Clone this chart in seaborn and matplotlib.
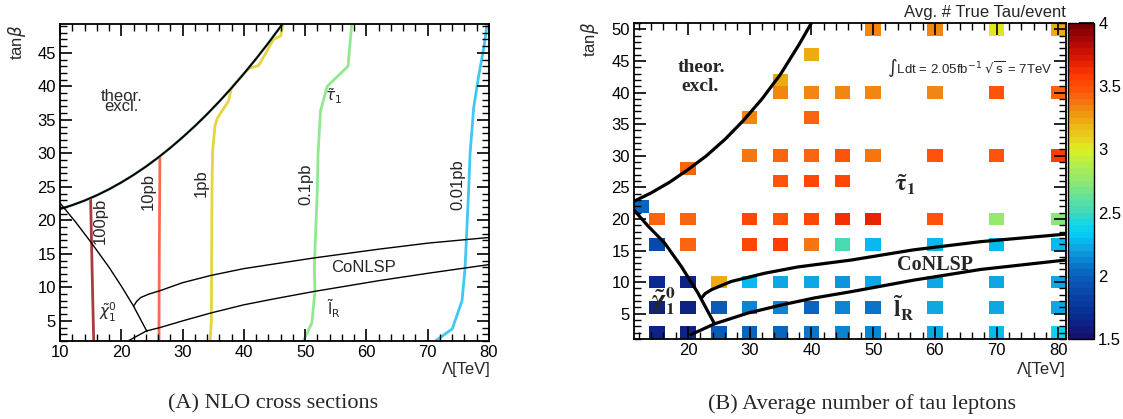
import numpy as np
import pandas as pd
import matplotlib
matplotlib.use("Agg")
import matplotlib.pyplot as plt
import seaborn as sns
from matplotlib.colors import LinearSegmentedColormap
from matplotlib.ticker import MultipleLocator, FormatStrFormatter

sns.set_style("ticks")
plt.rcParams["font.family"] = ["Liberation Sans", "DejaVu Sans"]
plt.rcParams.update({
    "xtick.direction": "in", "ytick.direction": "in",
    "xtick.top": True, "ytick.right": True,
    "xtick.bottom": True, "ytick.left": True,
    "xtick.major.size": 8.5, "ytick.major.size": 8.5,
    "xtick.minor.size": 4.8, "ytick.minor.size": 4.8,
    "xtick.major.width": 1.2, "ytick.major.width": 1.2,
    "xtick.minor.width": 1.0, "ytick.minor.width": 1.0,
    "xtick.color": "black", "ytick.color": "black",
    "xtick.minor.visible": True, "ytick.minor.visible": True,
})

# ---------------- Panel A: NLO cross-section contours ----------------
excl_lam = [10, 12, 14, 16, 18, 20, 22, 24, 26, 28, 30, 32, 34, 36, 38, 40, 42, 44, 46.3]
excl_tanb = [21.70, 22.27, 22.95, 23.74, 24.64, 25.66, 26.78, 28.01, 29.36, 30.82,
             32.39, 34.06, 35.85, 37.75, 39.76, 41.89, 44.12, 46.46, 49.3]

xs100_lam = [15.5, 15.3, 15.0]
xs100_tanb = [2, 10, 23.1]
xs10_lam = [26.15, 26.2, 26.3]
xs10_tanb = [2, 15, 29.5]
xs1_lam = [34.5, 34.7, 34.8, 34.9, 35.3, 35.7, 37.5, 38.0, 40.0, 40.9, 42.4, 43.6, 44.8, 46.0, 46.4]
xs1_tanb = [2, 5, 25, 30.3, 34.2, 35.3, 37.8, 39.8, 41.9, 42.7, 43.1, 45.0, 47.0, 47.5, 49.3]
xs01_lam = [49.7, 51.1, 51.6, 51.5, 52.0, 52.1, 52.5, 53.6, 57.0, 57.6]
xs01_tanb = [2, 4.7, 9.5, 13, 25, 29.8, 36.3, 40, 43, 49.3]
xs001_lam = [71.25, 74.0, 75.6, 76.1, 76.7, 76.9, 77.5, 78.3, 79.1, 79.7]
xs001_tanb = [2, 3.8, 8, 13, 25, 29.8, 36.8, 41.5, 45.5, 49.3]

chiA_lam = [10, 12.5, 15, 18, 20, 22, 24.2]
chiA_tanb = [22.6, 19.8, 16.8, 13.0, 10.2, 7.2, 3.4]
coA_lam = [22, 22.5, 23.2, 24.5, 26.3, 30, 34.7, 40, 45, 51.5, 62, 70, 80]
coA_tanb = [7.2, 7.9, 8.5, 9.0, 9.5, 10.7, 11.8, 12.8, 13.5, 14.4, 15.7, 16.6, 17.45]
lrA_lam = [21.1, 24.1, 26.3, 30, 34.7, 40, 45, 51.5, 62, 70, 80]
lrA_tanb = [2, 3.5, 4.0, 5.0, 6.2, 7.4, 8.3, 9.4, 11.0, 12.1, 13.4]

# ---------------- Panel B: average number of true taus per event ----------------
excl_b_lam = [11.25, 14, 17, 20, 23, 26, 29, 32, 35, 38, 40.0]
excl_b_tanb = [22.8, 24.1, 25.8, 27.8, 30.0, 32.6, 35.6, 39.0, 42.9, 47.6, 51.0]
chiB_lam = [11.25, 13.5, 16.2, 18.9, 21.6, 24.3]
chiB_tanb = [21.4, 18.9, 16.2, 12.5, 8.3, 3.4]
coB_lam = [22.2, 22.8, 23.8, 25.5, 27.0, 32.4, 37.8, 46.5, 56.5, 67.4, 81.25]
coB_tanb = [7.5, 8.2, 8.8, 9.5, 10.1, 11.4, 12.4, 13.5, 15.1, 16.4, 17.6]
lrB_lam = [20.5, 24.3, 29.7, 35.2, 40.5, 46.5, 56.5, 67.4, 81.25]
lrB_tanb = [1.7, 3.4, 5.1, 6.4, 7.5, 8.5, 10.3, 12.0, 13.5]

grid_lam = (
    [15, 20, 25, 30, 35, 40, 45, 50, 60, 70, 80]
    + [15, 20, 25, 30, 35, 40, 45, 50, 60, 70, 80]
    + [15, 20, 25, 30, 35, 40, 45, 50, 60, 70, 80]
    + [15, 20, 30, 35, 40, 45, 50, 60, 70, 80]
    + [15, 20, 30, 35, 40, 45, 50, 60, 70, 80]
    + [12.5]
    + [35, 40, 45]
    + [20]
    + [30, 35, 40, 45, 50, 60, 70, 80]
    + [30, 40]
    + [35, 40, 45, 50, 60, 70, 80]
    + [35]
    + [40]
    + [50, 60, 70, 80]
)
grid_tanb = (
    [2] * 11 + [6] * 11 + [10] * 11 + [16] * 10 + [20] * 10 + [22]
    + [26] * 3 + [28] + [30] * 8 + [36] * 2 + [40] * 7 + [42] + [46] + [50] * 4
)
grid_ntau = (
    [1.65, 1.65, 1.95, 2.00, 2.05, 2.07, 2.10, 2.10, 2.20, 2.30, 2.38]
    + [1.65, 1.63, 1.95, 2.10, 2.10, 2.05, 2.15, 2.08, 2.20, 2.20, 2.20]
    + [1.70, 1.63, 3.20, 2.25, 2.20, 2.20, 2.18, 2.20, 2.22, 2.20, 2.20]
    + [1.85, 3.42, 3.50, 3.57, 3.35, 2.55, 2.30, 2.30, 2.28, 2.28]
    + [3.42, 3.43, 3.52, 3.45, 3.53, 3.60, 3.65, 3.45, 2.75, 2.70]
    + [2.00]
    + [3.45, 3.50, 3.50]
    + [3.40]
    + [3.38, 3.40, 3.40, 3.48, 3.37, 3.48, 3.45, 3.57]
    + [3.33, 3.42]
    + [3.30, 3.33, 3.32, 3.33, 3.33, 3.45, 3.40]
    + [3.22]
    + [3.22]
    + [3.33, 3.33, 3.05, 3.22]
)
cbar_ticks = [1.5, 2.0, 2.5, 3.0, 3.5, 4.0]

# rainbow palette, anchored on the colour-axis values
pal_vals = [1.5, 1.65, 1.85, 2.0, 2.1, 2.2, 2.3, 2.4, 2.5, 2.6, 2.75, 2.9, 3.0,
            3.1, 3.22, 3.33, 3.42, 3.5, 3.6, 3.7, 3.85, 4.0]
pal_cols = ["#16106e", "#0a2a90", "#0848a8", "#0a62bc", "#0a80d0", "#10a0e0",
            "#00c8f8", "#10d8e8", "#40d8b8", "#60e0a0", "#90e870", "#b8ee48",
            "#dcf020", "#e8d020", "#eeb010", "#f08810", "#f86a10", "#ff5008",
            "#ff3a00", "#e82000", "#b80808", "#780000"]
vmin, vmax = 1.5, 4.0
cmap = LinearSegmentedColormap.from_list(
    "rainbow_root",
    [((v - vmin) / (vmax - vmin), c) for v, c in zip(pal_vals, pal_cols)],
    N=50,
)

W, H = 1123, 419
fig = plt.figure(figsize=(W / 100, H / 100), dpi=100)
axA = fig.add_axes([60 / W, 1 - 341 / H, (489 - 60) / W, (341 - 24) / H])
axB = fig.add_axes([634 / W, 1 - 339 / H, (1066 - 634) / W, (339 - 23) / H])
cax = fig.add_axes([1068 / W, 1 - 339 / H, (1094 - 1068) / W, (339 - 23) / H])


def line(ax, x, y, color, lw):
    sns.lineplot(x=x, y=y, sort=False, estimator=None, color=color, lw=lw, ax=ax)


# ---- panel A
line(axA, xs100_lam, xs100_tanb, "#a83c3c", 2.0)
line(axA, xs10_lam, xs10_tanb, "#f86a50", 2.0)
line(axA, xs1_lam, xs1_tanb, "#e6d440", 2.0)
line(axA, xs01_lam, xs01_tanb, "#90e890", 2.0)
line(axA, xs001_lam, xs001_tanb, "#40c8f0", 2.0)
line(axA, excl_lam, excl_tanb, "#9cc8b0", 2.0)
line(axA, excl_lam, excl_tanb, "black", 1.4)
line(axA, chiA_lam, chiA_tanb, "black", 1.0)
line(axA, coA_lam, coA_tanb, "black", 1.0)
line(axA, lrA_lam, lrA_tanb, "black", 1.0)

axA.set_xlim(10, 80)
axA.set_ylim(2, 49.3)
axA.xaxis.set_major_locator(MultipleLocator(10))
axA.xaxis.set_minor_locator(MultipleLocator(2))
axA.yaxis.set_major_locator(MultipleLocator(5))
axA.yaxis.set_minor_locator(MultipleLocator(1))

fs = 12
axA.text(20.0, 36.3, "theor.\nexcl.", ha="center", va="baseline", fontsize=fs,
         linespacing=0.62, multialignment="center")
axA.text(16.6, 19.9, "100pb", rotation=90, ha="center", va="center", fontsize=fs)
axA.text(24.4, 24.3, "10pb", rotation=90, ha="center", va="center", fontsize=fs)
axA.text(33.0, 25.5, "1pb", rotation=90, ha="center", va="center", fontsize=fs)
axA.text(50.1, 25.4, "0.1pb", rotation=90, ha="center", va="center", fontsize=fs)
axA.text(75.0, 25.3, "0.01pb", rotation=90, ha="center", va="center", fontsize=fs)
axA.text(59.6, 13.0, "CoNLSP", ha="center", va="center", fontsize=fs)
axA.text(54.6, 38.5, r"$\tilde{\tau}_1$", ha="center", va="center", fontsize=11,
         math_fontfamily="dejavusans")
axA.text(54.6, 6.8, r"$\tilde{\mathrm{l}}_\mathrm{R}$", ha="center", va="center",
         fontsize=11, math_fontfamily="dejavusans")
axA.text(17.9, 6.3, r"$\tilde{\chi}^0_1$", ha="center", va="center", fontsize=11,
         math_fontfamily="dejavusans")

# ---- panel B
sq = pd.DataFrame({"lam": grid_lam, "tanb": grid_tanb, "ntau": grid_ntau})
lam_edges = np.arange(11.25, 81.26, 2.5)
tanb_edges = np.arange(1, 51.01, 2)
sns.histplot(data=sq, x="lam", y="tanb", weights="ntau", bins=[lam_edges, tanb_edges],
             cmap=cmap, vmin=vmin, vmax=vmax, cbar=True, cbar_ax=cax,
             cbar_kws={"ticks": cbar_ticks}, ax=axB)

line(axB, excl_b_lam, excl_b_tanb, "black", 2.3)
line(axB, chiB_lam, chiB_tanb, "black", 2.3)
line(axB, coB_lam, coB_tanb, "black", 2.3)
line(axB, lrB_lam, lrB_tanb, "black", 2.3)

axB.set_xlim(11.25, 81.25)
axB.set_ylim(1, 51)
axB.xaxis.set_major_locator(MultipleLocator(10))
axB.xaxis.set_minor_locator(MultipleLocator(2))
axB.yaxis.set_major_locator(MultipleLocator(5))
axB.yaxis.set_minor_locator(MultipleLocator(1))

serif = ["Liberation Serif", "DejaVu Serif"]
axB.text(22.2, 43.9, "theor.", ha="center", va="center", fontsize=14,
         fontweight="bold", family=serif)
axB.text(21.9, 40.9, "excl.", ha="center", va="center", fontsize=14,
         fontweight="bold", family=serif)
axB.text(60.0, 12.75, "CoNLSP", ha="center", va="center", fontsize=14.5,
         fontweight="bold", family=serif)
axB.text(55.1, 25.4, r"$\mathbf{\tilde{\tau}_1}$", ha="center", va="center",
         fontsize=17, math_fontfamily="stix")
axB.text(54.9, 5.9, r"$\mathbf{\tilde{l}_R}$", ha="center", va="center",
         fontsize=17, math_fontfamily="stix")
axB.text(15.9, 6.9, r"$\mathbf{\tilde{\chi}}^{\mathbf{0}}_{\mathbf{1}}$", ha="center",
         va="center", fontsize=18, math_fontfamily="stix")
axB.text(65.7, 43.9, r"$\int$Ldt = 2.05fb$^{-1}$ $\sqrt{\mathrm{s}}$ = 7TeV",
         ha="center", va="center", fontsize=9.5, math_fontfamily="dejavusans")

for ax in (axA, axB):
    ax.set_xlabel("")
    ax.set_ylabel("")
    ax.set_axisbelow(False)
    for s in ax.spines.values():
        s.set_linewidth(1.3)
        s.set_color("black")
        s.set_visible(True)
    ax.tick_params(which="both", direction="in", top=True, right=True,
                   bottom=True, left=True, colors="black", labelsize=12, pad=3)
    ax.tick_params(which="major", length=8.5, width=1.2)
    ax.tick_params(which="minor", length=4.8, width=1.0)

cax.tick_params(which="major", direction="in", length=11, width=1.2, labelsize=12,
                pad=3, colors="black", right=True, left=False)
cax.yaxis.set_major_formatter(FormatStrFormatter("%g"))
cax.yaxis.set_minor_locator(plt.NullLocator())
cax.xaxis.set_minor_locator(plt.NullLocator())
for coll in axB.collections:
    if getattr(coll, "colorbar", None) is not None:
        coll.colorbar.outline.set_linewidth(1.0)
        coll.colorbar.outline.set_edgecolor("black")

# axis titles and captions
fig.text(17 / W, 1 - 25 / H, r"tan$\beta$", rotation=90, ha="center", va="top",
         fontsize=12, math_fontfamily="dejavusans")
fig.text(590 / W, 1 - 22 / H, r"tan$\beta$", rotation=90, ha="center", va="top",
         fontsize=12, math_fontfamily="dejavusans")
fig.text(491 / W, 1 - 369 / H, "Λ[TeV]", ha="right", va="center", fontsize=12)
fig.text(1066 / W, 1 - 369 / H, "Λ[TeV]", ha="right", va="center", fontsize=12)
fig.text(1066 / W, 1 - 12 / H, "Avg. # True Tau/event", ha="right", va="center",
         fontsize=12)
fig.text(273 / W, 1 - 404 / H, "(A) NLO cross sections", ha="center", va="center",
         fontsize=16, family=serif)
fig.text(862 / W, 1 - 404 / H, "(B) Average number of tau leptons", ha="center",
         va="center", fontsize=16, family=serif)

fig.savefig("out.png", dpi=100, facecolor="white")
